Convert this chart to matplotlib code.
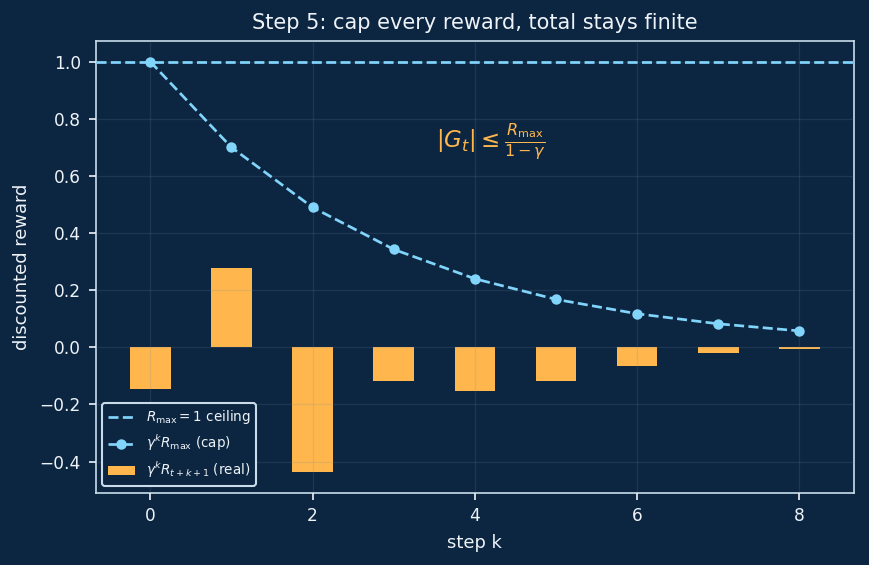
import matplotlib
matplotlib.use("Agg")
import matplotlib.pyplot as plt

steps = [0, 1, 2, 3, 4, 5, 6, 7, 8]
real_rewards = [-0.147, 0.277, -0.437, -0.119, -0.154, -0.119, -0.066, -0.021, -0.007]
cap_values = [1.0, 0.7, 0.49, 0.343, 0.2401, 0.168, 0.1176, 0.0824, 0.0576]
r_max = 1.0

bg = "#0c2540"
fg = "#eef3f8"
orange = "#ffb74d"
blue = "#81d4fa"

fig, ax = plt.subplots(figsize=(869/150, 565/150), dpi=150)
fig.patch.set_facecolor(bg)
ax.set_facecolor(bg)

ax.bar(steps, real_rewards, width=0.5, color=orange, alpha=1.0,
       label=r"$\gamma^k R_{t+k+1}$ (real)", zorder=2)
ax.axhline(r_max, color=blue, ls="--", lw=1.3, label=r"$R_{\max}=1$ ceiling", zorder=3)
ax.plot(steps, cap_values, ls="--", marker="o", ms=4, color=blue, lw=1.3,
        label=r"$\gamma^k R_{\max}$ (cap)", zorder=4)

ax.text(4.2, 0.72, r"$|G_t| \leq \frac{R_{\max}}{1-\gamma}$", color=orange,
        fontsize=11, ha="center", va="center")

ax.set_axisbelow(False)
ax.grid(True, color="#6f8aa5", alpha=0.18, lw=0.6, zorder=2.5)
for s in ax.spines.values():
    s.set_color("#c8dcea")
ax.tick_params(colors=fg, labelsize=8.2)
ax.set_xlabel("step k", color=fg, fontsize=8.6)
ax.set_ylabel("discounted reward", color=fg, fontsize=8.6)
ax.set_title("Step 5: cap every reward, total stays finite", color=fg, fontsize=10)

handles, labels = ax.get_legend_handles_labels()
leg = ax.legend(handles, labels,
                loc="lower left", fontsize=6.5, facecolor=bg, edgecolor="#c8dcea",
                framealpha=1)
leg.set_zorder(5)
for t in leg.get_texts():
    t.set_color(fg)

fig.subplots_adjust(left=0.11, right=0.983, top=0.927, bottom=0.128)
fig.savefig("out.png", dpi=150, facecolor=bg)
